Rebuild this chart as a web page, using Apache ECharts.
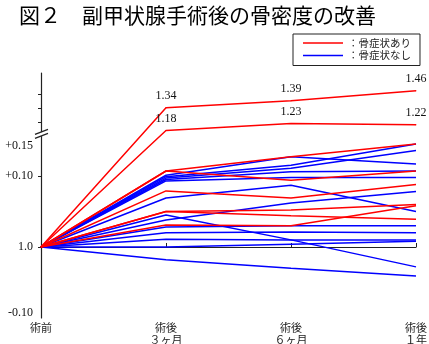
<!DOCTYPE html>
<html><head><meta charset="utf-8">
<script src="https://cdn.jsdelivr.net/npm/echarts@6/dist/echarts.min.js"></script>
<style>html,body{margin:0;padding:0;background:#fff}#c{width:429px;height:344px}</style>
</head><body><div id="c"></div>
<script>
// ---- data ----
const categories = ['術前', '術後\n３ヶ月', '術後\n６ヶ月', '術後\n１年'];
const redLabeledLines = [
  [1.0, 1.34, 1.39, 1.46],
  [1.0, 1.18, 1.23, 1.22]
];
const redLines = [
  [1.0, 1.107, 1.127, 1.145],
  [1.0, 1.107, 1.094, 1.107],
  [1.0, 1.079, 1.069, 1.088],
  [1.0, 1.050, 1.052, 1.060],
  [1.0, 1.031, 1.030, 1.058],
  [1.0, 1.050, 1.044, 1.039]
];
const blueLines = [
  [1.0, 1.101, 1.127, 1.117],
  [1.0, 1.099, 1.115, 1.145],
  [1.0, 1.097, 1.111, 1.136],
  [1.0, 1.095, 1.106, 1.107],
  [1.0, 1.093, 1.098, 1.098],
  [1.0, 1.069, 1.087, 1.050],
  [1.0, 1.038, 1.062, 1.078],
  [1.0, 1.045, 1.010, 0.972],
  [1.0, 1.028, 1.030, 1.030],
  [1.0, 1.020, 1.021, 1.020],
  [1.0, 1.011, 1.010, 1.010],
  [1.0, 1.000, 1.004, 1.008],
  [1.0, 0.982, 0.970, 0.959]
];
const seriesNames = ['骨症状あり', '骨症状なし'];
const yTickValues = [0.90, 1.00, 1.10, 1.15];
const yTickLabels = ['-0.10', '1.0', '+0.10', '+0.15'];
const titleText = '図２　副甲状腺手術後の骨密度の改善';

// ---- broken-axis scale (values above BREAK are compressed) ----
const BREAK = 1.16;
const UPPER_FACTOR = 0.2;
function toAxis(v) {
  return v <= BREAK ? v - 1 : (BREAK - 1) + (v - BREAK) * UPPER_FACTOR;
}
const labelNudge = [0.007, 0, 0, -0.008];
const labelPos = yTickValues.map((v, i) => +(toAxis(v) + labelNudge[i]).toFixed(4));

const RED = '#ff0000', BLUE = '#0000ff';
const CJK = '"Noto Sans CJK JP", sans-serif';
const SERIF = '"Liberation Serif", "DejaVu Serif", serif';

const series = [];
blueLines.forEach(arr => series.push({
  type: 'line', name: seriesNames[1], data: arr.map(toAxis), symbol: 'none',
  lineStyle: { color: BLUE, width: 1.5 }, itemStyle: { color: BLUE }, z: 2, silent: true
}));
redLines.forEach(arr => series.push({
  type: 'line', name: seriesNames[0], data: arr.map(toAxis), symbol: 'none',
  lineStyle: { color: RED, width: 1.5 }, itemStyle: { color: RED }, z: 3, silent: true
}));
redLabeledLines.forEach(arr => series.push({
  type: 'line', name: seriesNames[0], data: arr.map(toAxis), symbol: 'circle', symbolSize: 1,
  lineStyle: { color: RED, width: 1.5 }, itemStyle: { color: RED }, z: 3, silent: true,
  label: {
    show: true, position: 'top', distance: 5,
    fontFamily: SERIF, fontSize: 12, color: '#111',
    formatter: p => p.dataIndex === 0 ? '' : arr[p.dataIndex].toFixed(2)
  }
}));

const chart = echarts.init(document.getElementById('c'), null, { renderer: 'canvas' });
chart.setOption({
  animation: false,
  backgroundColor: '#fff',
  title: {
    text: titleText, left: 14, top: 0,
    textStyle: { fontFamily: CJK, fontSize: 21, fontWeight: 'normal', color: '#000' }
  },
  legend: {
    data: seriesNames, orient: 'vertical', left: 293, top: 34,
    padding: [3, 9, 4, 10], itemGap: 0.5,
    borderColor: '#222', borderWidth: 1,
    icon: 'rect', itemWidth: 40, itemHeight: 1.5,
    formatter: n => '：' + n,
    textStyle: { fontFamily: CJK, fontSize: 10.5, lineHeight: 12, color: '#222' },
    selectedMode: false
  },
  grid: { left: 41, right: 13, top: 73, bottom: 26, containLabel: false, outerBoundsMode: 'none' },
  xAxis: {
    type: 'category', data: categories, boundaryGap: false,
    axisLine: { lineStyle: { color: '#222', width: 1.2 } },
    axisTick: { show: true, inside: true, length: 4, lineStyle: { color: '#222' } },
    axisLabel: { fontFamily: CJK, fontSize: 11, lineHeight: 12, color: '#222', margin: 4, interval: 0 },
    splitLine: { show: false }
  },
  yAxis: {
    type: 'value', min: -0.10, max: 0.245,
    axisLine: { show: true, lineStyle: { color: '#222', width: 1.2 } },
    axisTick: { show: true, length: 3, lineStyle: { color: '#222' },
      customValues: [0, 0.10, 0.175, 0.195, 0.215] },
    axisLabel: {
      fontFamily: SERIF, fontSize: 12, color: '#111', margin: 8,
      customValues: labelPos,
      formatter: v => {
        const i = labelPos.findIndex(p => Math.abs(p - v) < 1e-6);
        return i >= 0 ? yTickLabels[i] : '';
      }
    },
    splitLine: { show: false }
  },
  series: series
});

// axis-break marker on the y axis at the break value
const pt = chart.convertToPixel({ gridIndex: 0 }, [0, toAxis(BREAK)]);
const xa = pt[0], yb = pt[1];
chart.setOption({
  graphic: [
    { type: 'polygon', z: 100, shape: { points: [[xa - 4, yb + 0.5], [xa + 4, yb - 2.5], [xa + 4, yb + 1.5], [xa - 4, yb + 4.5]] },
      style: { fill: '#fff' } },
    { type: 'line', z: 101, shape: { x1: xa - 6, y1: yb + 1, x2: xa + 7, y2: yb - 4 }, style: { stroke: '#222', lineWidth: 1.3 } },
    { type: 'line', z: 101, shape: { x1: xa - 6, y1: yb + 5, x2: xa + 7, y2: yb }, style: { stroke: '#222', lineWidth: 1.3 } }
  ]
});
</script>
</body></html>
